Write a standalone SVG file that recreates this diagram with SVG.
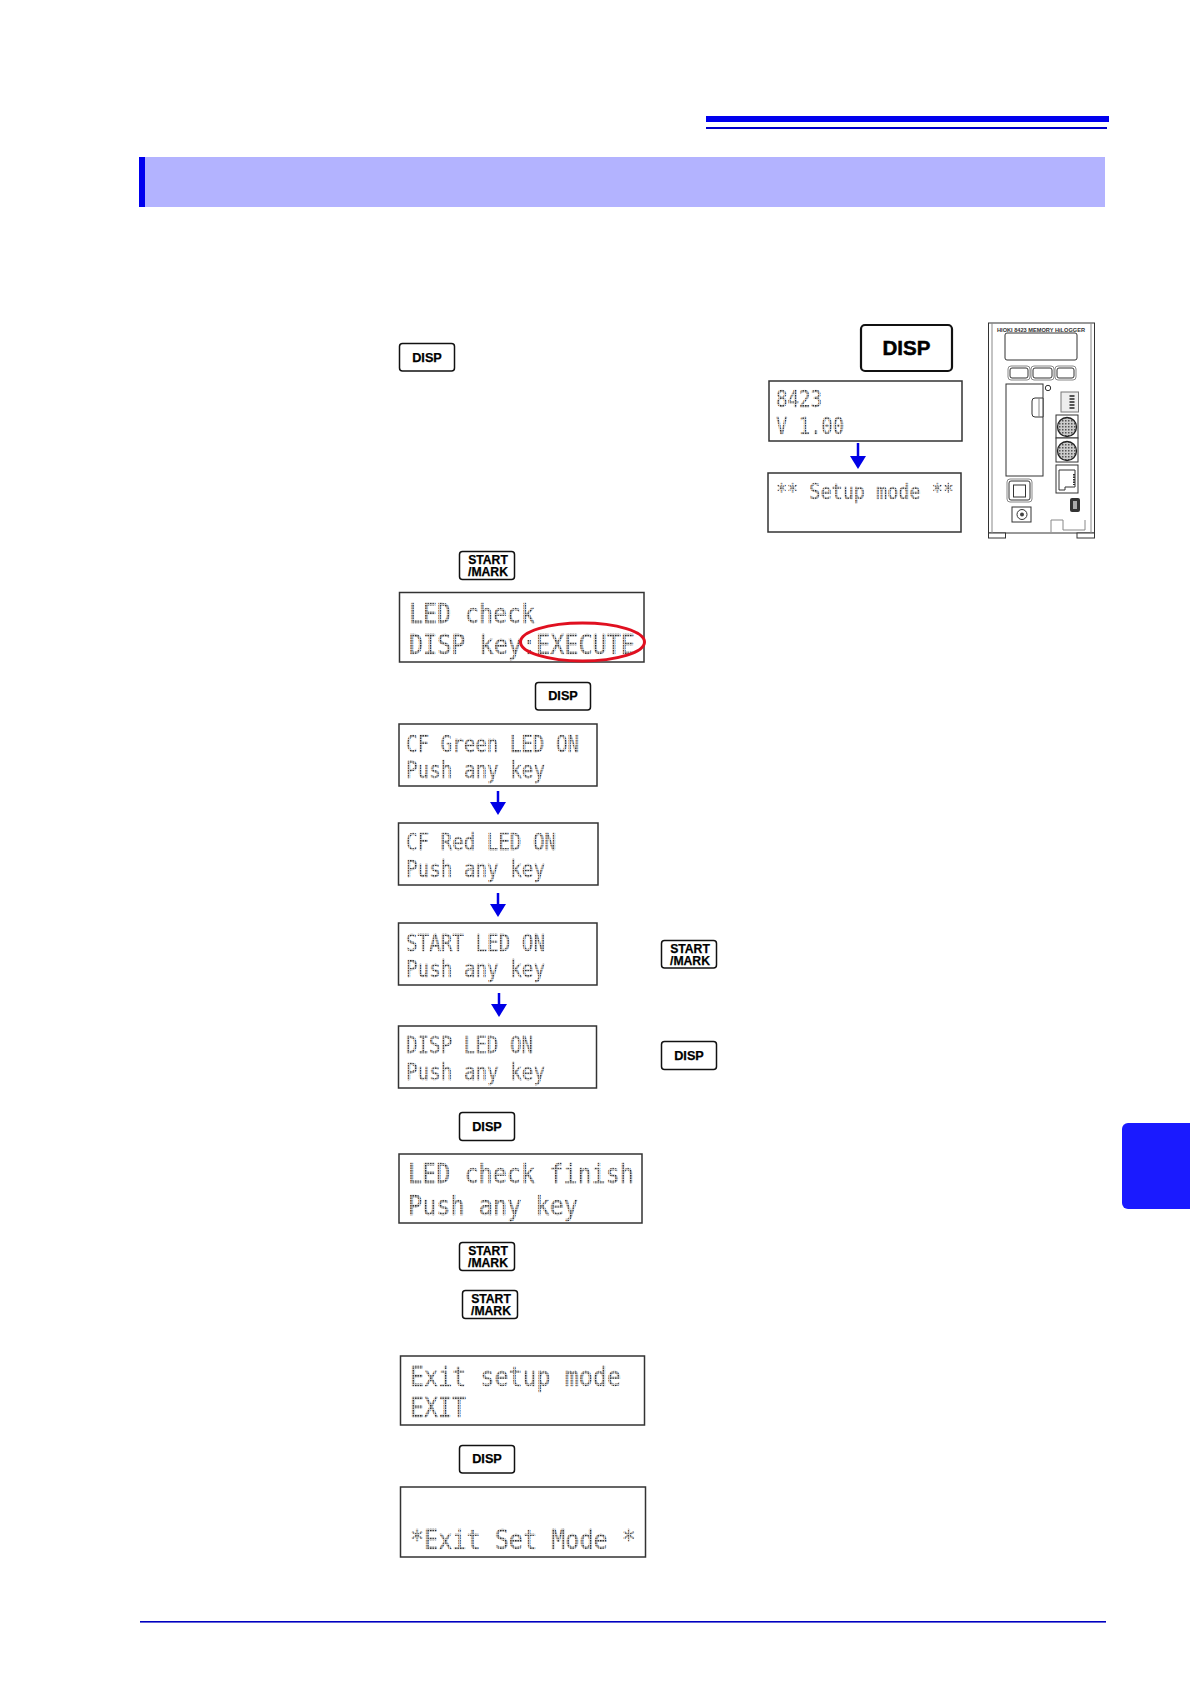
<svg xmlns="http://www.w3.org/2000/svg" width="1190" height="1684" viewBox="0 0 1190 1684">
<style>
.key{fill:#fff;stroke:#111;stroke-width:1.5}
.kt{font-family:"Liberation Sans",Arial,sans-serif;font-weight:700;font-size:12.7px;text-anchor:middle;fill:#000;stroke:#000;stroke-width:.25}
.ks{font-size:12.2px}
.lcd{fill:#fff;stroke:#333;stroke-width:1.5}
.t{font-family:"DejaVu Sans Mono",monospace;fill:url(#dots);stroke:url(#dots);stroke-width:.3}
.s{font-size:23px}
.b{font-size:27px}
.dv{fill:#fff;stroke:#333;stroke-width:1}
.dg{fill:none;stroke:#888;stroke-width:1}
.conn{stroke:#0000e6;stroke-width:2.5;fill:none;marker-end:url(#ah)}
</style>
<defs>
<pattern id="dots" patternUnits="userSpaceOnUse" width="2.5" height="2.5">
<rect width="2.5" height="2.5" fill="#d8d8d8"/><rect width="1.5" height="1.5" fill="#222"/>
</pattern>
<pattern id="din" patternUnits="userSpaceOnUse" width="3" height="3">
<rect width="3" height="3" fill="#ccc"/><rect width="1.5" height="1.5" fill="#555"/>
</pattern>
<marker id="ah" markerUnits="userSpaceOnUse" markerWidth="13" markerHeight="16" refX="0" refY="8" orient="auto" viewBox="0 0 13 16"><path d="M0 0L13 8L0 16Z" fill="#0000e6"/></marker>
</defs>
<rect width="1190" height="1684" fill="#fff"/>
<g id="page">
<rect x="706" y="116" width="403" height="6" fill="#0000ee"/>
<rect x="706" y="127" width="401" height="2" fill="#0000c8"/>
<rect x="139" y="157" width="966" height="50" fill="#b3b3ff"/>
<rect x="139" y="157" width="6" height="50" fill="#0000ee"/>
<rect x="140" y="1621" width="966" height="1.6" fill="#0000c0"/>
<path d="M1190 1123H1128a6 6 0 0 0-6 6V1203a6 6 0 0 0 6 6H1190Z" fill="#1a1aff"/>
</g>
<g id="connectors">
<line class="conn" x1="858" y1="443" x2="858" y2="456"/>
<line class="conn" x1="498" y1="791" x2="498" y2="802"/>
<line class="conn" x1="498" y1="893" x2="498" y2="904"/>
<line class="conn" x1="499" y1="993" x2="499" y2="1004"/>
</g>
<g id="key-disp-1"><rect class="key" x="399.5" y="343.5" width="55" height="27.5" rx="3"/><text class="kt" x="427" y="361.5">DISP</text></g>
<g id="key-disp-large"><rect x="861" y="325" width="91" height="46" rx="4" fill="#fff" stroke="#111" stroke-width="2.2"/><text class="kt" style="font-size:20.5px;stroke-width:.5" x="906.5" y="355">DISP</text></g>
<g id="lcd-version"><rect class="lcd" x="769" y="381" width="193" height="60"/><text class="t s" x="776" y="407" textLength="46" lengthAdjust="spacingAndGlyphs">8423</text><text class="t s" x="776" y="434" textLength="68" lengthAdjust="spacingAndGlyphs">V 1.00</text></g>
<g id="lcd-setup"><rect class="lcd" x="768" y="473" width="193" height="59"/><text class="t" style="font-size:21px" x="776" y="499" textLength="178" lengthAdjust="spacingAndGlyphs">** Setup mode **</text></g>
<g id="device">
<rect class="dv" x="988.5" y="323" width="106" height="210"/>
<rect class="dv" x="988.5" y="533" width="17" height="5"/><rect class="dv" x="1077" y="533" width="17.5" height="5"/>
<path class="dg" d="M992 323V533M1091 323V533M1051 532V520H1063V530H1085V520"/>
<text x="997" y="331.5" textLength="88" lengthAdjust="spacingAndGlyphs" style="font-family:'Liberation Sans',sans-serif;font-weight:700;font-size:5px" fill="#333">HIOKI 8423 MEMORY HiLOGGER</text>
<rect class="dv" x="1005" y="333" width="72" height="27" rx="2"/>
<rect class="dg" x="1008" y="366" width="22" height="14" rx="3"/><rect class="dg" x="1031" y="366" width="23" height="14" rx="3"/><rect class="dg" x="1055" y="366" width="21" height="14" rx="3"/>
<rect class="dv" x="1010" y="368" width="18" height="10" rx="2"/><rect class="dv" x="1033" y="368" width="19" height="10" rx="2"/><rect class="dv" x="1057" y="368" width="17" height="10" rx="2"/>
<rect class="dv" x="1006" y="384" width="37" height="92"/>
<path class="dv" d="M1043 398H1035Q1032 398 1032 401V414Q1032 417 1035 417H1043Z"/>
<path class="dg" d="M1039 398V417"/>
<circle class="dv" cx="1048" cy="388" r="2.7"/>
<rect x="1061" y="392" width="17.5" height="20" fill="#eee" stroke="#777"/>
<path d="M1072 395V409" stroke="#555" stroke-width="5" stroke-dasharray="2 1" fill="none"/>
<rect class="dv" x="1056" y="415" width="22" height="23"/><rect class="dv" x="1056" y="438" width="22" height="24"/>
<circle cx="1067" cy="427" r="9.5" fill="url(#din)" stroke="#222" stroke-width="1.3"/><circle cx="1067" cy="451" r="9.5" fill="url(#din)" stroke="#222" stroke-width="1.3"/>
<rect class="dv" x="1056" y="465" width="22" height="28"/>
<path class="dv" d="M1059 470H1075V487H1065V490H1059Z" stroke-width="1.3"/>
<path d="M1074 474V485" stroke="#333" stroke-width="2" stroke-dasharray="1.5 1" fill="none"/>
<rect class="dg" x="1007" y="479" width="25" height="23" rx="3"/><rect class="dv" x="1009" y="481" width="21" height="19" rx="2"/><rect class="dv" x="1013.5" y="485" width="12" height="12"/>
<rect class="dv" x="1012" y="507" width="19" height="15"/><circle class="dv" cx="1022" cy="514.5" r="5"/><circle cx="1022" cy="514.5" r="2" fill="#444"/>
<rect x="1070" y="498" width="10" height="14" rx="2" fill="#333"/><rect x="1073" y="501" width="4" height="8" fill="#aaa"/>
</g>
<g id="key-start-1"><rect class="key" x="459.5" y="551.5" width="55" height="28" rx="3"/><text class="kt ks" x="488" y="564">START</text><text class="kt ks" x="488" y="576">/MARK</text></g>
<g id="lcd-led-check"><rect class="lcd" x="399.5" y="592.5" width="244.5" height="69.5"/><text class="t b" x="409" y="623" textLength="126" lengthAdjust="spacingAndGlyphs">LED check</text><text class="t b" x="409" y="654" textLength="226" lengthAdjust="spacingAndGlyphs">DISP key:EXECUTE</text><ellipse cx="582.5" cy="642" rx="62" ry="19" fill="none" stroke="#e01020" stroke-width="3"/></g>
<g id="key-disp-2"><rect class="key" x="535.5" y="682.5" width="55" height="27.5" rx="3"/><text class="kt" x="563" y="700">DISP</text></g>
<g id="lcd-cf-green"><rect class="lcd" x="399" y="724" width="198" height="62"/><text class="t s" x="406" y="752" textLength="173" lengthAdjust="spacingAndGlyphs">CF Green LED ON</text><text class="t s" x="406" y="778" textLength="139" lengthAdjust="spacingAndGlyphs">Push any key</text></g>
<g id="lcd-cf-red"><rect class="lcd" x="398.5" y="823" width="199.5" height="62"/><text class="t s" x="406" y="850" textLength="150" lengthAdjust="spacingAndGlyphs">CF Red LED ON</text><text class="t s" x="406" y="877" textLength="139" lengthAdjust="spacingAndGlyphs">Push any key</text></g>
<g id="lcd-start"><rect class="lcd" x="398.5" y="923" width="198.5" height="62"/><text class="t s" x="406" y="951" textLength="139" lengthAdjust="spacingAndGlyphs">START LED ON</text><text class="t s" x="406" y="977" textLength="139" lengthAdjust="spacingAndGlyphs">Push any key</text></g>
<g id="lcd-disp"><rect class="lcd" x="398.5" y="1026" width="198" height="62"/><text class="t s" x="406" y="1053" textLength="127" lengthAdjust="spacingAndGlyphs">DISP LED ON</text><text class="t s" x="406" y="1080" textLength="139" lengthAdjust="spacingAndGlyphs">Push any key</text></g>
<g id="key-start-2"><rect class="key" x="661.5" y="940.5" width="55" height="27.5" rx="3"/><text class="kt ks" x="690" y="953">START</text><text class="kt ks" x="690" y="965">/MARK</text></g>
<g id="key-disp-3"><rect class="key" x="661.5" y="1041.5" width="55" height="28" rx="3"/><text class="kt" x="689" y="1060">DISP</text></g>
<g id="key-disp-4"><rect class="key" x="459.5" y="1112.5" width="55" height="28" rx="3"/><text class="kt" x="487" y="1131">DISP</text></g>
<g id="lcd-finish"><rect class="lcd" x="399" y="1154" width="243" height="69"/><text class="t b" x="408" y="1183" textLength="226" lengthAdjust="spacingAndGlyphs">LED check finish</text><text class="t b" x="408" y="1215" textLength="170" lengthAdjust="spacingAndGlyphs">Push any key</text></g>
<g id="key-start-3"><rect class="key" x="459.5" y="1242.5" width="55" height="28" rx="3"/><text class="kt ks" x="488" y="1255">START</text><text class="kt ks" x="488" y="1267">/MARK</text></g>
<g id="key-start-4"><rect class="key" x="462.5" y="1290.5" width="55" height="28" rx="3"/><text class="kt ks" x="491" y="1303">START</text><text class="kt ks" x="491" y="1315">/MARK</text></g>
<g id="lcd-exit"><rect class="lcd" x="400.5" y="1356" width="244" height="69"/><text class="t b" x="410" y="1386" textLength="211" lengthAdjust="spacingAndGlyphs">Exit setup mode</text><text class="t b" x="410" y="1417" textLength="56" lengthAdjust="spacingAndGlyphs">EXIT</text></g>
<g id="key-disp-5"><rect class="key" x="459.5" y="1445.5" width="55" height="27.5" rx="3"/><text class="kt" x="487" y="1463">DISP</text></g>
<g id="lcd-exit-mode"><rect class="lcd" x="400.5" y="1487" width="245" height="70"/><text class="t b" x="410" y="1549" textLength="226" lengthAdjust="spacingAndGlyphs">*Exit Set Mode *</text></g>
</svg>
